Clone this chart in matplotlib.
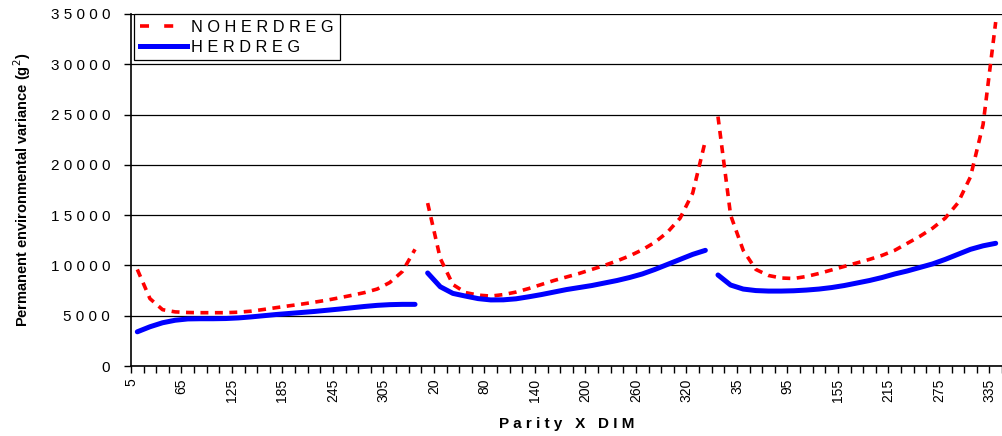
import numpy as np
import matplotlib.pyplot as plt
from matplotlib.lines import Line2D

plt.rcParams['font.family'] = ['Liberation Sans', 'DejaVu Sans']

# DIM classes inside each parity (same for all three parities)
dim = [5, 20, 35, 50, 65, 80, 95, 110, 125, 140, 155, 170, 185, 200, 215,
       230, 245, 260, 275, 290, 305, 320, 335]

# permanent environmental variance, model without herd regression
noherdreg_p1 = [9600, 6700, 5600, 5380, 5320, 5300, 5300, 5300, 5350, 5450, 5620, 5800,
                5980, 6150, 6340, 6540, 6780, 7030, 7300, 7650, 8300, 9400, 11600]
noherdreg_p2 = [16200, 10700, 8100, 7300, 7050, 6950, 7100, 7350, 7700, 8100, 8500, 8850,
                9200, 9600, 10000, 10450, 10950, 11550, 12300, 13300, 14700, 17200, 22400]
noherdreg_p3 = [24800, 15000, 11500, 9600, 9000, 8750, 8700, 8900, 9200, 9550, 9900, 10250,
                10600, 11000, 11500, 12200, 12900, 13700, 14700, 16200, 18800, 24000, 34200]

# same, model with herd regression
herdreg_p1 = [3400, 3900, 4300, 4550, 4680, 4700, 4700, 4720, 4780, 4880, 5000, 5120,
              5220, 5320, 5420, 5540, 5660, 5790, 5920, 6030, 6100, 6130, 6130]
herdreg_p2 = [9250, 7880, 7220, 6950, 6700, 6570, 6580, 6680, 6880, 7100, 7350, 7600,
              7800, 8000, 8250, 8500, 8800, 9150, 9600, 10100, 10600, 11100, 11500]
herdreg_p3 = [9050, 8050, 7650, 7500, 7450, 7450, 7480, 7550, 7650, 7800, 8000, 8250,
              8500, 8800, 9150, 9450, 9800, 10150, 10600, 11100, 11600, 11950, 12200]

noherdreg = [noherdreg_p1, noherdreg_p2, noherdreg_p3]
herdreg = [herdreg_p1, herdreg_p2, herdreg_p3]

W, H = 1002, 436
fig = plt.figure(figsize=(W / 100, H / 100), dpi=100)
ax = fig.add_axes([131 / W, (H - 366) / H, 871 / W, 352 / H])

n = len(dim)
for p in range(3):
    x = np.arange(n) + p * n
    ax.plot(x, noherdreg[p], color='#ff0000', lw=2.6, dashes=(2.2, 1.8), zorder=3)
    ax.plot(x, herdreg[p], color='#0000ff', lw=3.6, solid_capstyle='round',
            solid_joinstyle='round', zorder=3)

total = 3 * n
ax.set_xlim(-0.5, -0.5 + 871 / 12.68)
ax.set_ylim(0, 35000)

# category ticks between the points, labels on every fourth tick
labels = [str(d) for d in dim] * 3
ax.set_xticks(np.arange(total + 1) - 0.5, minor=True)
ax.set_xticks(np.arange(0, total, 4) - 0.5)
ax.set_xticklabels(labels[::4], rotation=90, fontsize=10)
ax.tick_params(axis='x', which='both', direction='out', length=5, width=1, color='black', pad=4)

yt = np.arange(0, 35001, 5000)
ax.set_yticks(yt)
ax.set_yticklabels([' '.join(str(v)) for v in yt], fontsize=11)
ax.tick_params(axis='y', direction='out', length=5, width=1, pad=10)
ax.yaxis.grid(True, color='black', lw=0.9)
ax.set_axisbelow(True)

for s in ['top', 'right']:
    ax.spines[s].set_visible(False)
ax.spines['left'].set_linewidth(1.2)
ax.spines['bottom'].set_linewidth(1.2)

fig.text(22 / W, 1 - 190 / H, 'Permanent environmental variance (g$^2$)', fontsize=10.5,
         fontweight='bold', rotation=90, ha='center', va='center')
fig.text(567 / W, 1 - 424 / H, 'P a r i t y   X   D I M', fontsize=11,
         fontweight='bold', ha='center', va='center')

handles = [Line2D([], [], color='#ff0000', lw=2.6, dashes=(2.5, 4.2)),
           Line2D([], [], color='#0000ff', lw=3.6)]
leg = ax.legend(handles, ['N O H E R D R E G', 'H E R D R E G'],
                loc='upper left', bbox_to_anchor=(3 / 871, 1.0), fontsize=11.8,
                frameon=True, fancybox=False, edgecolor='black', framealpha=1,
                borderaxespad=0, handlelength=2.9, handletextpad=0.25,
                borderpad=0.35, labelspacing=0.3)
leg.get_frame().set_linewidth(0.9)

fig.savefig('out.png', dpi=100)
